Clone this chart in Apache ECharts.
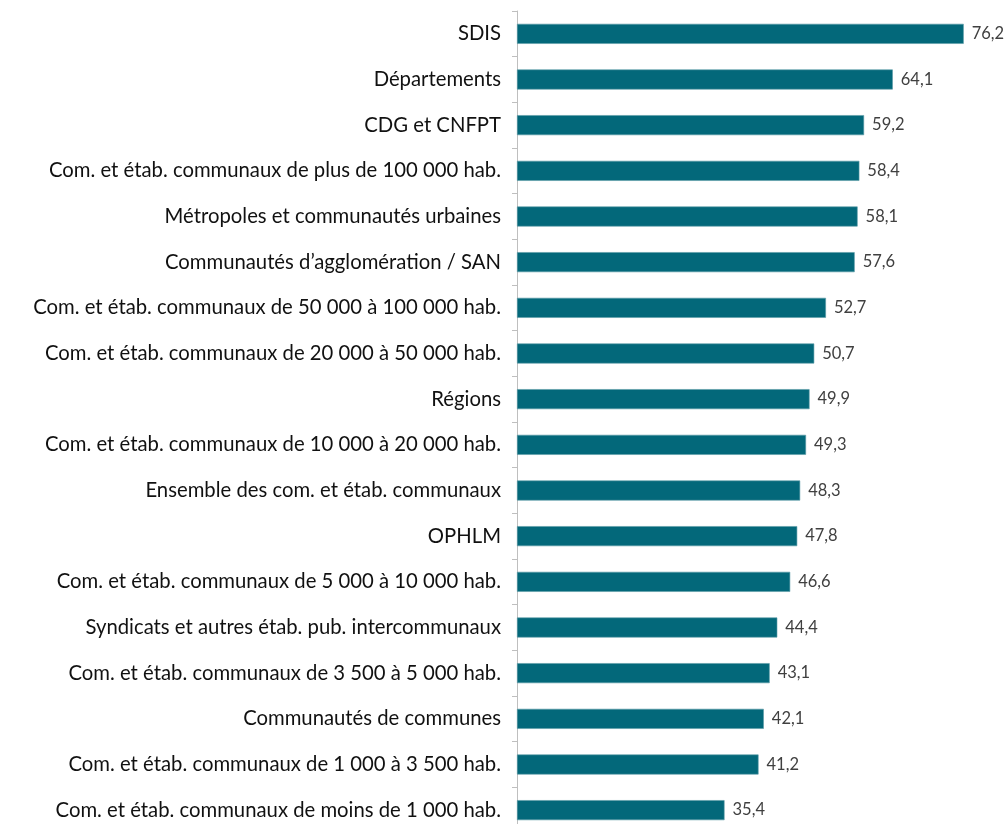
<!DOCTYPE html>
<html>
<head>
<meta charset="utf-8">
<script src="https://cdn.jsdelivr.net/npm/echarts@6/dist/echarts.min.js"></script>
<style>
  html, body { margin: 0; padding: 0; background: #fff; overflow: hidden; }
  /* un peu plus haut que la fenêtre : la dernière barre touche le bas, comme l'original */
  #main { width: 1006px; height: 833px; }
</style>
</head>
<body>
<div id="main"></div>
<script>
// catégories, du haut vers le bas
var categories = [
  'SDIS',
  'Départements',
  'CDG et CNFPT',
  'Com. et étab. communaux de plus de 100 000 hab.',
  'Métropoles et communautés urbaines',
  'Communautés d’agglomération / SAN',
  'Com. et étab. communaux de 50 000 à 100 000 hab.',
  'Com. et étab. communaux de 20 000 à 50 000 hab.',
  'Régions',
  'Com. et étab. communaux de 10 000 à 20 000 hab.',
  'Ensemble des com. et étab. communaux',
  'OPHLM',
  'Com. et étab. communaux de 5 000 à 10 000 hab.',
  'Syndicats et autres étab. pub. intercommunaux',
  'Com. et étab. communaux de 3 500 à 5 000 hab.',
  'Communautés de communes',
  'Com. et étab. communaux de 1 000 à 3 500 hab.',
  'Com. et étab. communaux de moins de 1 000 hab.'
];
var values = [76.2, 64.1, 59.2, 58.4, 58.1, 57.6, 52.7, 50.7, 49.9, 49.3, 48.3, 47.8, 46.6, 44.4, 43.1, 42.1, 41.2, 35.4];

var chart = echarts.init(document.getElementById('main'));

var option = {
  backgroundColor: '#fff',
  animation: false,
  grid: {
    left: 517,
    right: 20,
    top: 11,
    bottom: 0,
    containLabel: false
  },
  xAxis: {
    type: 'value',
    min: 0,
    max: 80,
    show: false
  },
  yAxis: {
    type: 'category',
    inverse: true,
    data: categories,
    axisLine: {        // axe vertical gris
      show: true,
      lineStyle: { color: '#bfbfbf', width: 1 }
    },
    axisTick: {
      show: true,
      length: 5,
      lineStyle: { color: '#bfbfbf' }
    },
    axisLabel: {
      margin: 16,
      color: '#111',
      fontFamily: 'Lato',
      fontSize: 20.3
    },
    splitLine: { show: false }
  },
  series: [
    {
      type: 'bar',
      data: values,
      barWidth: 20,
      itemStyle: {
        color: '#03687a',
        borderColor: '#5b9aa6',
        borderWidth: 0.6
      },
      label: {
        show: true,
        position: 'right',
        distance: 8,
        color: '#404040',
        fontFamily: 'Lato',
        fontSize: 16.5,
        formatter: function (p) {
          return String(p.value.toFixed(1)).replace('.', ',');
        }
      }
    }
  ]
};
chart.setOption(option);
</script>
</body>
</html>
